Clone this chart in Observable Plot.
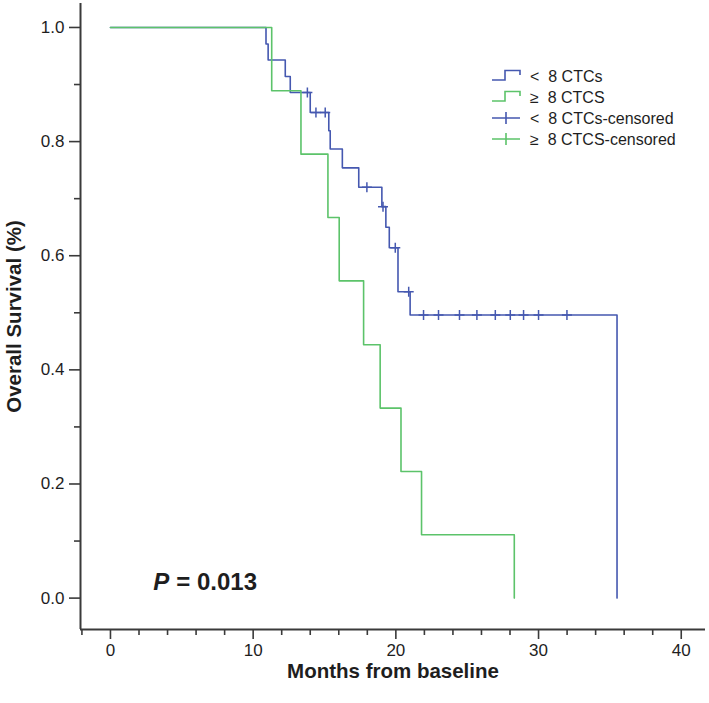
<!DOCTYPE html>
<html><head><meta charset="utf-8">
<script src="https://cdn.jsdelivr.net/npm/d3@7"></script>
<script src="https://cdn.jsdelivr.net/npm/@observablehq/plot@0.6"></script>
<style>
body{margin:0;background:#fff;font-family:"Liberation Sans",Arial,sans-serif;}
#wrap{position:relative;width:709px;height:703px;}
#legend{position:absolute;left:0;top:0;pointer-events:none;}
</style></head><body><div id="wrap"></div>
<script>
// < 8 CTCs (Kaplan–Meier steps)
const lowTimes = [0, 10.9, 11.05, 12.25, 12.6, 14.0, 15.3, 15.4, 16.25, 17.4, 19.02, 19.3, 19.54, 20.15, 21.0, 35.5];
const lowSurv  = [1, 0.971, 0.943, 0.914, 0.886, 0.851, 0.819, 0.787, 0.754, 0.720, 0.686, 0.650, 0.614, 0.537, 0.496, 0];
// >= 8 CTCS
const highTimes = [0, 11.3, 13.35, 15.24, 16.03, 17.74, 18.9, 20.36, 21.8, 28.3];
const highSurv  = [1, 0.889, 0.778, 0.667, 0.556, 0.444, 0.333, 0.222, 0.111, 0];
// censored (< 8 CTCs)
const lowCensTimes = [13.8, 14.4, 15.05, 17.97, 19.1, 19.96, 20.9, 21.94, 22.99, 24.46, 25.68, 26.97, 28.02, 28.95, 30.0, 31.99];
const lowCensSurv  = [0.886, 0.851, 0.851, 0.720, 0.686, 0.614, 0.537, 0.496, 0.496, 0.496, 0.496, 0.496, 0.496, 0.496, 0.496, 0.496];
// axes
const xMajor = [0, 10, 20, 30, 40];
const xMinor = [-2, 2, 4, 6, 8, 12, 14, 16, 18, 22, 24, 26, 28, 32, 34, 36, 38];
const yMajor = [0, 0.2, 0.4, 0.6, 0.8, 1.0];
const yMinor = [0.1, 0.3, 0.5, 0.7, 0.9];
const legendLabels = ["<\u00a0\u00a08 CTCs", "\u2265\u00a0\u00a08 CTCS", "<\u00a0\u00a08 CTCs-censored", "\u2265\u00a0\u00a08 CTCS-censored"];
const pText = "P";
const pValue = "= 0.013";
const xTitle = "Months from baseline";
const yTitle = "Overall Survival (%)";

const BLUE = "#4558b0", GREEN = "#5cc36a", AX = "#3a3a3a", TXT = "#1e1e1e";
const lowData = lowTimes.map((t, i) => ({t, s: lowSurv[i]}));
const highData = highTimes.map((t, i) => ({t, s: highSurv[i]}));
const censData = lowCensTimes.map((t, i) => ({t, s: lowCensSurv[i]}));
const cross = {draw(ctx, size) { const r = Math.sqrt(size / Math.PI); ctx.moveTo(0, -r); ctx.lineTo(0, r); ctx.moveTo(-r, 0); ctx.lineTo(r, 0); }};
const xDom = [-2.1, 41.7], yDom = [-0.055, 1.042];

const chart = Plot.plot({
  width: 709, height: 703,
  marginLeft: 80, marginRight: 4, marginTop: 3, marginBottom: 74,
  style: {fontFamily: "'Liberation Sans', Arial, sans-serif", fontSize: "17px", background: "#fff", color: TXT},
  x: {domain: xDom}, y: {domain: yDom},
  marks: [
    Plot.axisY({ticks: yMajor, tickSize: 11, tickPadding: 5, tickFormat: d3.format(".1f"), fontSize: 17, label: null, stroke: AX, strokeWidth: 1.6}),
    Plot.axisY({ticks: yMinor, tickSize: 6, tickFormat: () => "", label: null, stroke: AX, strokeWidth: 1.6}),
    Plot.axisX({ticks: xMajor, tickSize: 10, tickPadding: 4, fontSize: 17, label: null, stroke: AX, strokeWidth: 1.6}),
    Plot.axisX({ticks: xMinor, tickSize: 6, tickFormat: () => "", label: null, stroke: AX, strokeWidth: 1.6}),
    Plot.ruleX([xDom[0]], {stroke: AX, strokeWidth: 2}),
    Plot.ruleY([yDom[0]], {stroke: AX, strokeWidth: 2}),
    Plot.line(lowData, {x: "t", y: "s", curve: "step-after", stroke: BLUE, strokeWidth: 1.6}),
    Plot.line(highData, {x: "t", y: "s", curve: "step-after", stroke: GREEN, strokeWidth: 1.6}),
    Plot.dot(censData, {x: "t", y: "s", symbol: cross, r: 5, stroke: BLUE, strokeWidth: 1.5, fill: "none"}),
    Plot.text([pText], {x: 3.0, y: 0.027, text: d => d, textAnchor: "start", fontSize: 24, fontWeight: "bold", fontStyle: "italic", fill: TXT}),
    Plot.text([pValue], {x: 3.0, y: 0.027, dx: 23, text: d => d, textAnchor: "start", fontSize: 24, fontWeight: "bold", fill: TXT}),
    Plot.text([xTitle], {frameAnchor: "bottom", dy: 48, textAnchor: "middle", text: d => d, fontSize: 20.5, fontWeight: "bold", fill: TXT}),
    Plot.text([yTitle], {frameAnchor: "left", dx: -66, rotate: -90, textAnchor: "middle", text: d => d, fontSize: 20.5, fontWeight: "bold", fill: TXT})
  ]
});
document.getElementById("wrap").appendChild(chart);

// legend overlay
const colors = [BLUE, GREEN, BLUE, GREEN];
const kinds = ["step", "step", "cross", "cross"];
const svg = d3.select("#wrap").append("svg").attr("id", "legend").attr("width", 709).attr("height", 703);
legendLabels.forEach((lab, i) => {
  const yb = 80 + i * 21;
  const g = svg.append("g");
  if (kinds[i] === "step") {
    g.append("path").attr("d", `M492,${yb} H505 V${yb - 9.5} H520 V${yb - 5}`).attr("fill", "none").attr("stroke", colors[i]).attr("stroke-width", 1.6);
  } else {
    g.append("path").attr("d", `M492,${yb - 4} H520 M506,${yb - 10} V${yb + 2}`).attr("fill", "none").attr("stroke", colors[i]).attr("stroke-width", 1.6);
  }
  g.append("text").attr("x", 530).attr("y", yb + 2).attr("font-size", 16).attr("fill", TXT)
    .attr("font-family", "'Liberation Sans', Arial, sans-serif").text(lab);
});
</script></body></html>
